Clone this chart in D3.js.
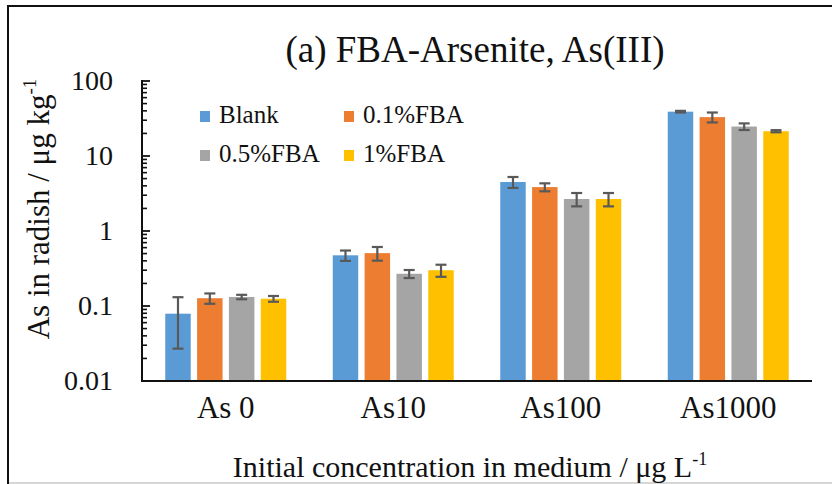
<!DOCTYPE html>
<html>
<head>
<meta charset="utf-8">
<script src="https://cdn.jsdelivr.net/npm/d3@7"></script>
<style>
  html, body { margin: 0; padding: 0; background: #fff; }
  svg text { font-family: "Liberation Serif", "Times New Roman", Times, serif; }
</style>
</head>
<body>
<svg id="chart" width="832" height="484"></svg>
<script>
// Arsenic content in radish under arsenite treatment with FBA amendment
const categories = ["As 0", "As10", "As100", "As1000"];
const seriesNames = ["Blank", "0.1%FBA", "0.5%FBA", "1%FBA"];
const seriesColors = ["#5B9BD5", "#ED7D31", "#A5A5A5", "#FFC000"];
// mean values (µg/kg), one array per series, ordered by category
const blank   = [0.079, 0.474, 4.5, 39.0];
const fba01   = [0.127, 0.507, 3.85, 33.0];
const fba05   = [0.132, 0.269, 2.67, 24.7];
const fba1    = [0.125, 0.300, 2.67, 21.4];
// standard deviations
const blankErr = [0.052, 0.075, 0.75, 1.0];
const fba01Err = [0.020, 0.105, 0.47, 5.0];
const fba05Err = [0.009, 0.033, 0.54, 2.5];
const fba1Err  = [0.011, 0.055, 0.54, 0.7];
const yTicks = [0.01, 0.1, 1, 10, 100];

const values = [blank, fba01, fba05, fba1];
const errors = [blankErr, fba01Err, fba05Err, fba1Err];

const FONT = "'Liberation Serif', 'Times New Roman', serif";
const svg = d3.select("#chart");

// outer frame
svg.append("line").attr("x1", 8).attr("x2", 8).attr("y1", 5).attr("y2", 484)
  .attr("stroke", "#111").attr("stroke-width", 2);
svg.append("line").attr("x1", 7).attr("x2", 832).attr("y1", 6).attr("y2", 6)
  .attr("stroke", "#111").attr("stroke-width", 2);
svg.append("line").attr("x1", 9).attr("x2", 832).attr("y1", 483).attr("y2", 483)
  .attr("stroke", "#c8c8c8").attr("stroke-width", 1.5);

const plot = { left: 142, right: 812, top: 81, bottom: 381 };

const x0 = d3.scaleBand().domain(categories).range([plot.left, plot.right]).paddingInner(0).paddingOuter(0);
const x1 = d3.scaleBand().domain(seriesNames).range([0, 121]).paddingInner(0.2);
const y = d3.scaleLog().domain([0.01, 100]).range([plot.bottom, plot.top]);

// bars
const rows = [];
categories.forEach((c, ci) => {
  seriesNames.forEach((s, si) => {
    rows.push({ c, s, si, v: values[si][ci], e: errors[si][ci] });
  });
});

const groupOffset = (x0.bandwidth() - x1.range()[1]) / 2;

svg.append("g").selectAll("rect").data(rows).join("rect")
  .attr("x", d => x0(d.c) + groupOffset + x1(d.s))
  .attr("y", d => y(d.v))
  .attr("width", x1.bandwidth())
  .attr("height", d => y(0.01) - y(d.v))
  .attr("fill", d => seriesColors[d.si]);

// error bars
const eb = svg.append("g").attr("stroke", "#595959").attr("stroke-width", 2.2);
rows.forEach(d => {
  const cx = x0(d.c) + groupOffset + x1(d.s) + x1.bandwidth() / 2;
  const hi = y(d.v + d.e), lo = y(Math.max(d.v - d.e, 0.0101));
  eb.append("line").attr("x1", cx).attr("x2", cx).attr("y1", hi).attr("y2", lo);
  eb.append("line").attr("x1", cx - 5.5).attr("x2", cx + 5.5).attr("y1", hi).attr("y2", hi);
  eb.append("line").attr("x1", cx - 5.5).attr("x2", cx + 5.5).attr("y1", lo).attr("y2", lo);
});

// y axis with log minor ticks drawn inside
const minor = [];
for (let p = -2; p < 2; p++) for (let k = 2; k <= 9; k++) minor.push(k * Math.pow(10, p));
const yAxis = svg.append("g").attr("transform", `translate(${plot.left},0)`);
yAxis.selectAll("line.minor").data(minor).join("line").attr("class", "minor")
  .attr("x1", 0).attr("x2", 5).attr("y1", d => y(d)).attr("y2", d => y(d))
  .attr("stroke", "#111").attr("stroke-width", 1.6);
yAxis.selectAll("line.major").data(yTicks).join("line").attr("class", "major")
  .attr("x1", 0).attr("x2", 8).attr("y1", d => y(d)).attr("y2", d => y(d))
  .attr("stroke", "#111").attr("stroke-width", 1.8);
yAxis.append("line").attr("x1", 0).attr("x2", 0).attr("y1", plot.top - 1).attr("y2", plot.bottom + 1)
  .attr("stroke", "#111").attr("stroke-width", 2);
yAxis.selectAll("text").data(yTicks).join("text")
  .attr("x", -29).attr("y", d => y(d)).attr("dy", "0.33em")
  .attr("text-anchor", "end").attr("font-size", 28).attr("fill", "#111")
  .style("font-family", FONT)
  .text(d => d3.format("~g")(d));

// x axis baseline and labels
svg.append("line").attr("x1", plot.left - 1).attr("x2", plot.right).attr("y1", plot.bottom).attr("y2", plot.bottom)
  .attr("stroke", "#111").attr("stroke-width", 2);
svg.append("g").selectAll("text").data(categories).join("text")
  .attr("x", d => x0(d) + x0.bandwidth() / 2).attr("y", 418)
  .attr("text-anchor", "middle").attr("font-size", 31).attr("fill", "#111")
  .style("font-family", FONT)
  .text(d => d);

// title
svg.append("text").attr("x", 475).attr("y", 62).attr("text-anchor", "middle")
  .attr("font-size", 37).attr("fill", "#111").style("font-family", FONT)
  .text("(a) FBA-Arsenite, As(III)");

// y axis title
const yt = svg.append("text").attr("transform", "translate(49,209) rotate(-90)")
  .attr("text-anchor", "middle").attr("font-size", 31).attr("fill", "#111")
  .style("font-family", FONT);
yt.append("tspan").text("As in radish / μg kg");
yt.append("tspan").attr("font-size", 19).attr("dy", -13).text("-1");

// x axis title
const xt = svg.append("text").attr("x", 470).attr("y", 477)
  .attr("text-anchor", "middle").attr("font-size", 30).attr("fill", "#111")
  .style("font-family", FONT);
xt.append("tspan").text("Initial concentration in medium / μg L");
xt.append("tspan").attr("font-size", 18).attr("dy", -12).text("-1");

// legend
const legendPos = [[200, 123], [344, 123], [200, 162], [344, 162]];
const lg = svg.append("g").selectAll("g").data(seriesNames).join("g")
  .attr("transform", (d, i) => `translate(${legendPos[i][0]},${legendPos[i][1]})`);
lg.append("rect").attr("x", 0).attr("y", -12).attr("width", 10).attr("height", 11)
  .attr("fill", (d, i) => seriesColors[i]);
lg.append("text").attr("x", 19).attr("y", 0).attr("font-size", 25).attr("fill", "#111")
  .style("font-family", FONT).text(d => d);
</script>
</body>
</html>
